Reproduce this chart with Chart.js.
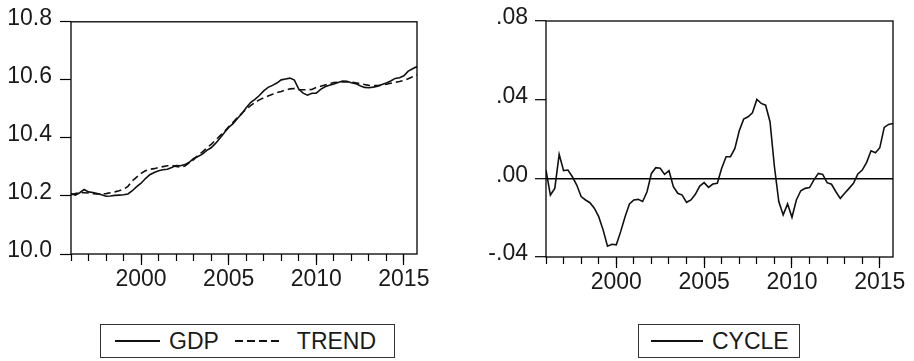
<!DOCTYPE html>
<html>
<head>
<meta charset="utf-8">
<script src="https://cdn.jsdelivr.net/npm/chart.js@4/dist/chart.umd.min.js"></script>
<style>
  body { margin:0; background:#fff; }
  #wrap { position:relative; width:914px; height:361px; overflow:hidden; font-family:"Liberation Sans", Arial, sans-serif; color:#1a1a1a; }
  canvas { position:absolute; top:0; }
  .legend { position:absolute; top:324px; height:34px; border:1px solid #333; display:flex; align-items:center; font-size:23px; box-sizing:border-box; }
  .sample { display:inline-block; height:1.6px; background:#111; }
  .dash { background:repeating-linear-gradient(to right, #111 0 8px, transparent 8px 12px); }
</style>
</head>
<body>
<div id="wrap">
  <canvas id="gdpChart" width="457" height="300" style="left:0"></canvas>
  <canvas id="cycleChart" width="457" height="300" style="left:457px"></canvas>
  <div class="legend" style="left:100px; width:295px; padding-left:14px">
    <span class="sample" style="width:45px"></span><span style="margin-left:9px">GDP</span>
    <span class="sample dash" style="width:44px; margin-left:16px"></span><span style="margin-left:18px">TREND</span>
  </div>
  <div class="legend" style="left:638px; width:162px; padding-left:12px">
    <span class="sample" style="width:52px"></span><span style="margin-left:9px">CYCLE</span>
  </div>
</div>
<script>
/* ---------- data (quarterly, 1996Q1 - 2015Q4) ---------- */
const quarters = [];
for (let y = 1996; y <= 2015; y++) for (let q = 1; q <= 4; q++) quarters.push(y + 'Q' + q);

const gdp = [10.208,10.203,10.211,10.222,10.214,10.212,10.208,10.204,10.199,10.200,
  10.202,10.203,10.204,10.207,10.218,10.232,10.244,10.260,10.273,10.281,
  10.287,10.290,10.292,10.298,10.305,10.304,10.308,10.316,10.329,10.336,
  10.344,10.357,10.366,10.381,10.399,10.418,10.436,10.449,10.467,10.483,
  10.504,10.522,10.533,10.546,10.562,10.574,10.581,10.589,10.600,10.603,
  10.606,10.599,10.568,10.554,10.547,10.554,10.554,10.567,10.576,10.581,
  10.586,10.591,10.596,10.595,10.590,10.587,10.580,10.574,10.573,10.575,
  10.578,10.584,10.589,10.596,10.605,10.607,10.614,10.630,10.638,10.646];

const trend = [10.204,10.208,10.211,10.211,10.210,10.208,10.207,10.207,10.208,10.211,
  10.214,10.218,10.223,10.233,10.252,10.265,10.278,10.287,10.292,10.294,
  10.298,10.301,10.304,10.305,10.302,10.299,10.303,10.314,10.325,10.340,
  10.352,10.365,10.378,10.392,10.407,10.422,10.438,10.454,10.470,10.485,
  10.499,10.511,10.522,10.531,10.538,10.544,10.550,10.556,10.560,10.565,
  10.569,10.570,10.566,10.566,10.566,10.567,10.574,10.578,10.582,10.586,
  10.591,10.592,10.593,10.593,10.592,10.590,10.587,10.584,10.581,10.580,
  10.580,10.582,10.585,10.588,10.591,10.594,10.598,10.604,10.611,10.618];

const cycle = [0.0042,-0.0085,-0.0051,0.0122,0.0039,0.0042,0.0008,-0.0034,-0.0093,-0.0110,
  -0.0124,-0.0152,-0.0195,-0.0262,-0.0345,-0.0335,-0.0338,-0.0271,-0.0195,-0.0130,
  -0.0110,-0.0107,-0.0118,-0.0068,0.0025,0.0054,0.0051,0.0020,0.0039,-0.0042,
  -0.0076,-0.0085,-0.0122,-0.0110,-0.0081,-0.0039,-0.0022,-0.0046,-0.0029,-0.0025,
  0.0051,0.0110,0.0110,0.0152,0.0242,0.0301,0.0313,0.0333,0.0401,0.0381,
  0.0372,0.0288,0.0060,-0.0118,-0.0186,-0.0130,-0.0198,-0.0110,-0.0063,-0.0051,
  -0.0047,-0.0008,0.0025,0.0020,-0.0022,-0.0030,-0.0068,-0.0102,-0.0076,-0.0051,
  -0.0025,0.0022,0.0042,0.0081,0.0140,0.0130,0.0156,0.0259,0.0274,0.0279];

const yearTicks = [];
for (let y = 1996; y <= 2015; y++) yearTicks.push(y);
const labelYears = [2000, 2005, 2010, 2015];
const gdpTicks = [10.0, 10.2, 10.4, 10.6, 10.8];
const cycleTicks = [-0.04, 0.00, 0.04, 0.08];

/* ---------- helpers ---------- */
const toX = q => parseInt(q) + (parseInt(q.slice(5)) - 1) / 4;
const pts = vals => vals.map((v, i) => ({ x: toX(quarters[i]), y: v }));
const FONT = { family: '"Liberation Sans", Arial, sans-serif', size: 23 };
const INK = '#1a1a1a';

const frame = {
  id: 'frame',
  afterDraw(chart) {
    const { ctx, chartArea: a } = chart;
    ctx.save();
    ctx.strokeStyle = '#000';
    ctx.lineWidth = 1.3;
    ctx.strokeRect(a.left, a.top, a.right - a.left, a.bottom - a.top);
    ctx.restore();
  }
};

function xScales(xHeight) {
  return {
    x: {
      type: 'linear', position: 'bottom', min: 1996, max: 2015.75,
      afterBuildTicks: s => { s.ticks = yearTicks.map(v => ({ value: v })); },
      ticks: { display: false },
      grid: { drawOnChartArea: false, tickLength: 7, color: '#000', tickWidth: 1.2 },
      border: { display: false },
      afterFit: s => { s.height = 0; }
    },
    x2: {
      type: 'linear', position: 'bottom', min: 1996, max: 2015.75,
      afterBuildTicks: s => { s.ticks = labelYears.map(v => ({ value: v })); },
      ticks: { font: FONT, color: INK, padding: 1, maxRotation: 0, autoSkip: false, callback: v => String(v) },
      grid: { drawOnChartArea: false, tickLength: 11, color: '#000', tickWidth: 1.2 },
      border: { display: false },
      afterFit: s => { s.height = xHeight; }
    }
  };
}

const common = {
  responsive: false, animation: false, events: [],
  plugins: { legend: { display: false }, tooltip: { enabled: false } },
  elements: { point: { radius: 0 }, line: { tension: 0 } }
};

/* ---------- GDP & TREND ---------- */
new Chart(document.getElementById('gdpChart'), {
  type: 'line',
  data: { datasets: [
    { label: 'GDP', data: pts(gdp), borderColor: '#111', borderWidth: 1.6 },
    { label: 'TREND', data: pts(trend), borderColor: '#111', borderWidth: 1.6, borderDash: [7, 4] }
  ] },
  options: Object.assign({}, common, {
    layout: { padding: { top: 17, right: 40, left: 0, bottom: 0 } },
    scales: Object.assign(xScales(46), {
      y: {
        min: 10.0, max: 10.8,
        afterBuildTicks: s => { s.ticks = gdpTicks.map(v => ({ value: v })); },
        ticks: { font: FONT, color: INK, padding: 8, labelOffset: -3, callback: v => v.toFixed(1) },
        grid: { drawOnChartArea: false, tickLength: 11, color: '#000', tickWidth: 1.2 },
        border: { display: false },
        afterFit: s => { s.width = 71; }
      }
    })
  }),
  plugins: [frame]
});

/* ---------- CYCLE ---------- */
new Chart(document.getElementById('cycleChart'), {
  type: 'line',
  data: { datasets: [
    { label: 'CYCLE', data: pts(cycle), borderColor: '#111', borderWidth: 1.6 }
  ] },
  options: Object.assign({}, common, {
    layout: { padding: { top: 21, right: 21, left: 0, bottom: 0 } },
    scales: Object.assign(xScales(43), {
      y: {
        min: -0.04, max: 0.08,
        afterBuildTicks: s => { s.ticks = cycleTicks.map(v => ({ value: v })); },
        ticks: { font: FONT, color: INK, padding: 7, labelOffset: -3,
                 callback: v => v.toFixed(2).replace('0.', '.') },
        grid: {
          drawOnChartArea: true, tickLength: 11, tickColor: '#000', tickWidth: 1.2,
          color: c => (c.tick && Math.abs(c.tick.value) < 1e-9) ? '#000' : 'rgba(0,0,0,0)',
          lineWidth: 1.4
        },
        border: { display: false },
        afterFit: s => { s.width = 89; }
      }
    })
  }),
  plugins: [frame]
});
</script>
</body>
</html>
